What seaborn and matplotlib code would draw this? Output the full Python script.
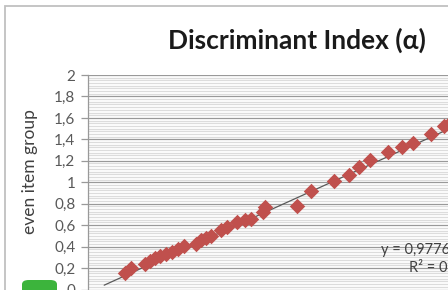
import matplotlib
matplotlib.use("Agg")
import matplotlib.pyplot as plt
from matplotlib.patches import FancyBboxPatch, Rectangle
from matplotlib.ticker import MultipleLocator, FixedLocator, FixedFormatter
import seaborn as sns
import pandas as pd

# scores (x axis is cropped away in the source)
odd_group = [0.161, 0.187, 0.248, 0.270, 0.291, 0.313, 0.335, 0.365, 0.391, 0.413,
             0.465, 0.487, 0.509, 0.530, 0.574, 0.600, 0.643, 0.678, 0.704, 0.757,
             0.765, 0.904, 0.965, 1.061, 1.126, 1.170, 1.217, 1.296, 1.357, 1.404,
             1.483, 1.539, 1.565]
even_group = [0.153, 0.200, 0.237, 0.265, 0.293, 0.312, 0.330, 0.349, 0.377, 0.405,
              0.423, 0.460, 0.479, 0.498, 0.553, 0.581, 0.628, 0.650, 0.656, 0.721,
              0.767, 0.777, 0.916, 1.009, 1.065, 1.140, 1.205, 1.279, 1.326, 1.363,
              1.447, 1.521, 1.549]

# linear trendline (Excel), shown from 0.07 onwards
trend_slope = 0.9776
trend_intercept = -0.028
trend_x = [0.07, 2.0]

y_ticks = [0, 0.2, 0.4, 0.6, 0.8, 1.0, 1.2, 1.4, 1.6, 1.8, 2.0]
y_tick_labels = ["0", "0,2", "0,4", "0,6", "0,8", "1", "1,2", "1,4", "1,6", "1,8", "2"]

title = "Discriminant Index (\u03b1)"
y_label = "even item group"
equation = "y = 0,9776x - 0,028"
r_squared = "R\u00b2 = 0,9912"

df = pd.DataFrame({"odd": odd_group, "even": even_group})

sns.set_theme(style="white")
plt.rcParams["font.family"] = ["Lato", "DejaVu Sans"]

W, H = 448, 290
fig = plt.figure(figsize=(W / 100, H / 100), dpi=100)

# axes extends past the right/bottom edges: the source is a crop
ax = fig.add_axes([88 / W, 0.5 / H, 1.06, 214.5 / H])
ax.set_xlim(0, 472 / 230)
ax.set_ylim(0, 2)

ax.yaxis.set_major_locator(FixedLocator(y_ticks))
ax.yaxis.set_major_formatter(FixedFormatter(y_tick_labels))
ax.yaxis.set_minor_locator(MultipleLocator(0.025))
ax.grid(axis="y", which="minor", color="#dcdcdc", linewidth=0.9)
ax.grid(axis="y", which="major", color="#999999", linewidth=0.9)
ax.set_axisbelow(True)
ax.set_xticks([])

for side in ["top", "right", "bottom"]:
    ax.spines[side].set_visible(False)
ax.spines["left"].set_color("#999999")
ax.spines["left"].set_linewidth(0.9)
ax.tick_params(axis="y", which="major", left=True, length=5, width=0.9,
               color="#999999", labelsize=11, labelcolor="#595959", pad=4)
ax.tick_params(axis="y", which="minor", left=False)

trend_y = [trend_slope * x + trend_intercept for x in trend_x]
ax.plot(trend_x, trend_y, color="#5a5a5a", linewidth=0.9, zorder=3)

sns.scatterplot(data=df, x="odd", y="even", marker="D", s=62, color="#c0504d",
                edgecolor="#c0504d", linewidth=0, ax=ax, zorder=4, legend=False)
ax.set_xlabel("")
ax.set_ylabel("")

fig.text(297 / W, 1 - 40 / H, title, ha="center", va="center",
         fontsize=19, fontweight="bold", color="#1a1a1a")
fig.text(30 / W, 1 - 172 / H, y_label, rotation=90, ha="center", va="center",
         fontsize=12.5, color="#404040")
fig.text(381 / W, 1 - 250 / H, equation, ha="left", va="center",
         fontsize=10.5, color="#404040")
fig.text(409 / W, 1 - 267 / H, r_squared, ha="left", va="center",
         fontsize=10.5, color="#404040")

# chart frame
fig.add_artist(Rectangle((4.5 / W, -0.1), 1.2, 1 - 6 / H + 0.1,
                         transform=fig.transFigure, fill=False,
                         edgecolor="#c0c0c0", linewidth=1.3))

# green page badge at the bottom left
fig.add_artist(FancyBboxPatch((22 / W, -0.06), 35 / W, 0.06 + (290 - 280) / H,
                              boxstyle="round,pad=0,rounding_size=0.015",
                              transform=fig.transFigure, facecolor="#3cb43c",
                              edgecolor="none"))
fig.text(40 / W, -6 / H, "17", ha="center", va="center", fontsize=10,
         fontweight="bold", color="white")

fig.savefig("out.png", dpi=100)
